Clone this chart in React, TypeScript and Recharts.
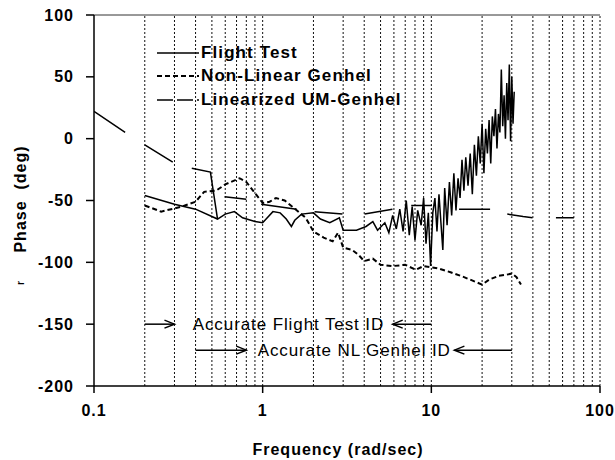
import React from 'react';
import {
  LineChart,
  Line,
  XAxis,
  YAxis,
  ReferenceLine,
  ReferenceDot,
  Legend,
} from 'recharts';

const FONT = '"Liberation Sans", Arial, Helvetica, sans-serif';

// frequency (rad/sec) / phase (deg) pairs
const flightFreq = [
  0.2, 0.3, 0.4, 0.54, 0.6, 0.68, 0.76, 0.9, 1.0, 1.15, 1.27, 1.38, 1.48, 1.55, 1.7, 2.0, 2.2, 2.5,
  2.85, 3.0, 3.6, 4.1, 4.5, 4.8, 5.3, 5.6, 5.9, 6.2, 6.5, 6.8, 7.1, 7.4, 7.7, 8.0, 8.3, 8.7, 9.0,
  9.3, 9.6, 9.9, 10.2, 10.5, 10.8, 11.1, 11.4, 11.7, 12, 12.4, 12.8, 13.2, 13.6, 14, 14.4, 14.8,
  15.2, 15.6, 16, 16.5, 17, 17.5, 18, 18.5, 19, 19.5, 20, 20.5, 21, 21.5, 22, 22.5, 23, 23.5, 24,
  24.5, 25, 25.5, 26, 26.5, 27, 27.5, 28, 28.5, 29, 29.5, 30, 30.5, 31,
];
const flightPhase = [
  -46, -53, -57, -65, -61, -59, -64, -67, -68, -59, -60, -65, -71, -66, -61, -60, -65, -68,
  -64, -74, -74, -71, -67, -74, -68, -76, -62, -73, -57, -75, -50, -78, -55, -82, -58, -70, -48,
  -85, -60, -103, -60, -48, -75, -45, -68, -90, -40, -70, -35, -62, -28, -58, -32, -48,
  -17, -42, -15, -38, -12, -45, -5, -30, 2, -20, 12, -28, 8, -12, 15, -20, 18, 2, 24,
  -8, 20, 5, 56, 10, 35, 0, 45, 15, 60, -2, 50, 12, 38,
];

const nlFreq = [
  0.2, 0.25, 0.33, 0.4, 0.45, 0.53, 0.6, 0.73, 0.8, 0.9, 1.0, 1.1, 1.2, 1.35, 1.5, 1.8, 2.0, 2.3,
  2.6, 2.8, 3.0, 3.4, 3.7, 4.0, 4.5, 5.0, 5.9, 7.0, 8.1, 9, 10, 11, 13, 15, 17, 20, 22, 25, 28,
  30, 32, 34,
];
const nlPhase = [
  -54, -59, -55, -51, -43, -42, -37, -32, -35, -44, -52, -51, -48, -50, -55, -64, -75, -80,
  -83, -76, -88, -90, -94, -99, -97, -102, -103, -102, -106, -103, -104, -105, -108, -111, -114,
  -118, -114, -111, -110, -109, -112, -118,
];

// linearized model is drawn as long dashes; null marks a gap between dashes
const linFreq = [
  0.1, 0.153, 0.175, 0.2, 0.293, 0.33, 0.38, 0.49, 0.54, 0.57, 0.595, 0.8, 0.9, 0.98, 1.59, 1.8,
  2.03, 2.97, 3.5, 4.02, 5.88, 6.7, 7.6, 10.1, 12, 14.6, 22.3, 25, 28.2, 35, 39.8, 47, 54.8, 70,
];
const linPhase = [
  22, 5, null, -5, -19, null, -24, -27, -65, null, -47, -49, null, -53, -57, null,
  -59, -61, null, -61, -57, null, -54, -54, null, -57, -57, null, -61, -63, -64, null, -64, -64,
];

const gridFreqs = [
  0.2, 0.3, 0.4, 0.5, 0.6, 0.7, 0.8, 0.9, 1, 2, 3, 4, 5, 6, 7, 8, 9, 10, 20, 30, 40, 50, 60, 70,
  80, 90, 100,
];
const xTicks = [0.1, 1, 10, 100];
const yTicks = [-200, -150, -100, -50, 0, 50, 100];

const seriesNames = ['Flight Test', 'Non-Linear Genhel', 'Linearized UM-Genhel'];

const flightData = flightFreq.map((f, i) => ({ f, v: flightPhase[i] }));
const nlData = nlFreq.map((f, i) => ({ f, v: nlPhase[i] }));
const linData = linFreq.map((f, i) => ({ f, v: linPhase[i] }));

const dashes = ['', '5 3', '16 4'];
const widths = [1.5, 2, 1.5];

function LegendBox() {
  return (
    <div style={{ fontFamily: FONT }}>
      {seriesNames.map((name, i) => (
        <div key={name} style={{ display: 'flex', alignItems: 'center', height: 23.5 }}>
          <svg width={42} height={10} style={{ marginRight: 2 }}>
            <line
              x1={0}
              y1={5}
              x2={42}
              y2={5}
              stroke="#000"
              strokeWidth={widths[i]}
              strokeDasharray={dashes[i]}
            />
          </svg>
          <span style={{ fontSize: 17, fontWeight: 'bold', letterSpacing: 1.1, color: '#000' }}>{name}</span>
        </div>
      ))}
    </div>
  );
}

function YTick(props: any) {
  const { x, y, payload } = props;
  return (
    <text x={x} y={y} dy="0.35em" textAnchor="end" fontFamily={FONT} fontSize={16} fontWeight="bold" letterSpacing={1} fill="#000">
      {payload.value}
    </text>
  );
}

function XTick(props: any) {
  const { x, y, payload } = props;
  return (
    <text x={x} y={y} dy="0.71em" textAnchor="middle" fontFamily={FONT} fontSize={16} fontWeight="bold" letterSpacing={1} fill="#000">
      {payload.value}
    </text>
  );
}

function YLabel() {
  return (
    <g fontFamily={FONT} fill="#000">
      <text x={20} y={199} transform="rotate(-90, 20, 199)" textAnchor="middle" dy="0.35em" fontSize={16} fontWeight="bold" letterSpacing={1}>
        {'Phase\u00a0\u00a0(deg)'}
      </text>
      <text x={20} y={283} transform="rotate(-90, 20, 283)" textAnchor="middle" dy="0.35em" fontSize={10} fontWeight="bold">
        r
      </text>
    </g>
  );
}

const arrowHead = (dir: number) => (p: any) => (
  <path
    d={`M${p.cx - dir * 10},${p.cy - 4} L${p.cx},${p.cy} L${p.cx - dir * 10},${p.cy + 4}`}
    stroke="#000"
    strokeWidth={1.5}
    fill="none"
  />
);

const noteText = (txt: string) => (p: any) => (
  <text x={p.cx} y={p.cy} dy="0.35em" textAnchor="start" fontFamily={FONT} fontSize={17} letterSpacing={0.9} fill="#000">
    {txt}
  </text>
);

export default function App() {
  return (
    <div style={{ position: 'absolute', left: 0, top: 0, width: 615, height: 460, background: '#fff' }}>
      <LineChart width={615} height={460} margin={{ top: 15, right: 15, bottom: 0, left: 0 }}>
        <XAxis
          dataKey="f"
          type="number"
          scale="log"
          domain={[0.1, 100]}
          ticks={xTicks}
          allowDataOverflow
          height={74}
          tickSize={7}
          tickMargin={12}
          tick={<XTick />}
          axisLine={{ stroke: '#000', strokeWidth: 1.5 }}
          tickLine={{ stroke: '#000', strokeWidth: 1.5 }}
          label={{
            value: 'Frequency (rad/sec)',
            position: 'insideBottom',
            offset: 5,
            dx: -9,
            style: { fontFamily: FONT, fontSize: 16, fontWeight: 'bold', letterSpacing: 1, fill: '#000' },
          }}
        />
        <YAxis
          type="number"
          domain={[-200, 100]}
          ticks={yTicks}
          allowDataOverflow
          width={94}
          tickSize={8}
          tickMargin={12}
          tick={<YTick />}
          axisLine={{ stroke: '#000', strokeWidth: 1.5 }}
          tickLine={{ stroke: '#000', strokeWidth: 1.5 }}
          label={<YLabel />}
        />
        <ReferenceLine y={100} stroke="#333" strokeWidth={1} />
        {gridFreqs.map((f) => (
          <ReferenceLine key={f} x={f} stroke="#111" strokeWidth={1} strokeDasharray="2 2" />
        ))}

        <Line data={linData} dataKey="v" name={seriesNames[2]} stroke="#000" strokeWidth={widths[2]} connectNulls={false} dot={false} isAnimationActive={false} />
        <Line data={nlData} dataKey="v" name={seriesNames[1]} stroke="#000" strokeWidth={widths[1]} strokeDasharray={dashes[1]} dot={false} isAnimationActive={false} />
        <Line data={flightData} dataKey="v" name={seriesNames[0]} stroke="#000" strokeWidth={widths[0]} dot={false} isAnimationActive={false} />

        <ReferenceLine segment={[{ x: 0.2, y: -150 }, { x: 0.3, y: -150 }]} stroke="#000" strokeWidth={1.5} />
        <ReferenceDot x={0.3} y={-150} shape={arrowHead(1)} />
        <ReferenceDot x={0.385} y={-150} shape={noteText('Accurate Flight Test ID')} />
        <ReferenceLine segment={[{ x: 5.9, y: -150 }, { x: 10, y: -150 }]} stroke="#000" strokeWidth={1.5} />
        <ReferenceDot x={5.9} y={-150} shape={arrowHead(-1)} />

        <ReferenceLine segment={[{ x: 0.4, y: -171 }, { x: 0.8, y: -171 }]} stroke="#000" strokeWidth={1.5} />
        <ReferenceDot x={0.8} y={-171} shape={arrowHead(1)} />
        <ReferenceDot x={0.934} y={-171} shape={noteText('Accurate NL Genhel ID')} />
        <ReferenceLine segment={[{ x: 13.7, y: -171 }, { x: 30, y: -171 }]} stroke="#000" strokeWidth={1.5} />
        <ReferenceDot x={13.7} y={-171} shape={arrowHead(-1)} />

        <Legend
          layout="vertical"
          align="center"
          verticalAlign="middle"
          content={<LegendBox />}
          wrapperStyle={{ top: 41, left: 157, width: 'auto' }}
        />
      </LineChart>
    </div>
  );
}
